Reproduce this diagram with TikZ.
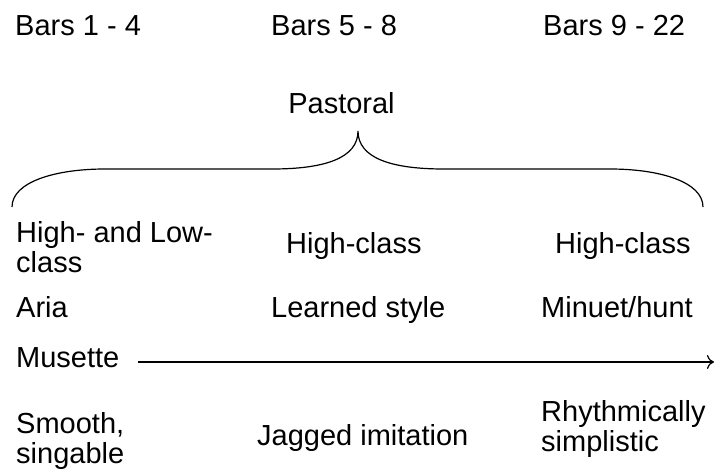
\documentclass[tikz,border=0pt]{standalone}
\usepackage{fontspec}
\setmainfont{Liberation Sans}
\usetikzlibrary{arrows.meta}
\begin{document}
\begin{tikzpicture}[x=1pt,y=-1pt,
  lbl/.style={inner sep=0pt, anchor=base west, align=left, font=\fontsize{29}{30}\selectfont},
  cbl/.style={inner sep=0pt, anchor=base, align=center, font=\fontsize{29}{30}\selectfont},
  line/.style={line width=1.2pt, black}]
\useasboundingbox (0,0) rectangle (716,469);
\node[lbl] (b1) at (15,35) {Bars 1 - 4};
\node[lbl] (b2) at (271,35) {Bars 5 - 8};
\node[lbl] (b3) at (543,35) {Bars 9 - 22};
\node[cbl] (past) at (341.5,113) {Pastoral};
\coordinate (bl) at (12,207);
\coordinate (tip) at (358,131);
\coordinate (br) at (703,207);
\draw[line] (bl) .. controls (12,182) and (55,169) .. (105,169)
  -- (272,169) .. controls (325,169) and (358,158) .. (tip)
  .. controls (358,158) and (391,169) .. (444,169)
  -- (610,169) .. controls (660,169) and (703,182) .. (br);
\node[lbl] (hl) at (16,272) {High- and Low-\\class};
\node[lbl] (hc1) at (286,253) {High-class};
\node[lbl] (hc2) at (555,253) {High-class};
\node[lbl] (aria) at (16,317) {Aria};
\node[lbl] (learn) at (271,317) {Learned style};
\node[lbl] (min) at (541,317) {Minuet/hunt};
\node[lbl] (mus) at (16,367) {Musette};
\coordinate (aend) at (714,362);
\path (mus.east) ++(18,0) coordinate (astart);
\draw[line, -{To[length=7pt,width=14pt,line width=1.2pt]}] (astart |- aend) -- (aend);
\node[lbl] (smooth) at (16,463) {Smooth,\\singable};
\node[lbl] (jag) at (257,445) {Jagged imitation};
\node[lbl] (rhy) at (541,451) {Rhythmically\\simplistic};
\end{tikzpicture}
\end{document}
